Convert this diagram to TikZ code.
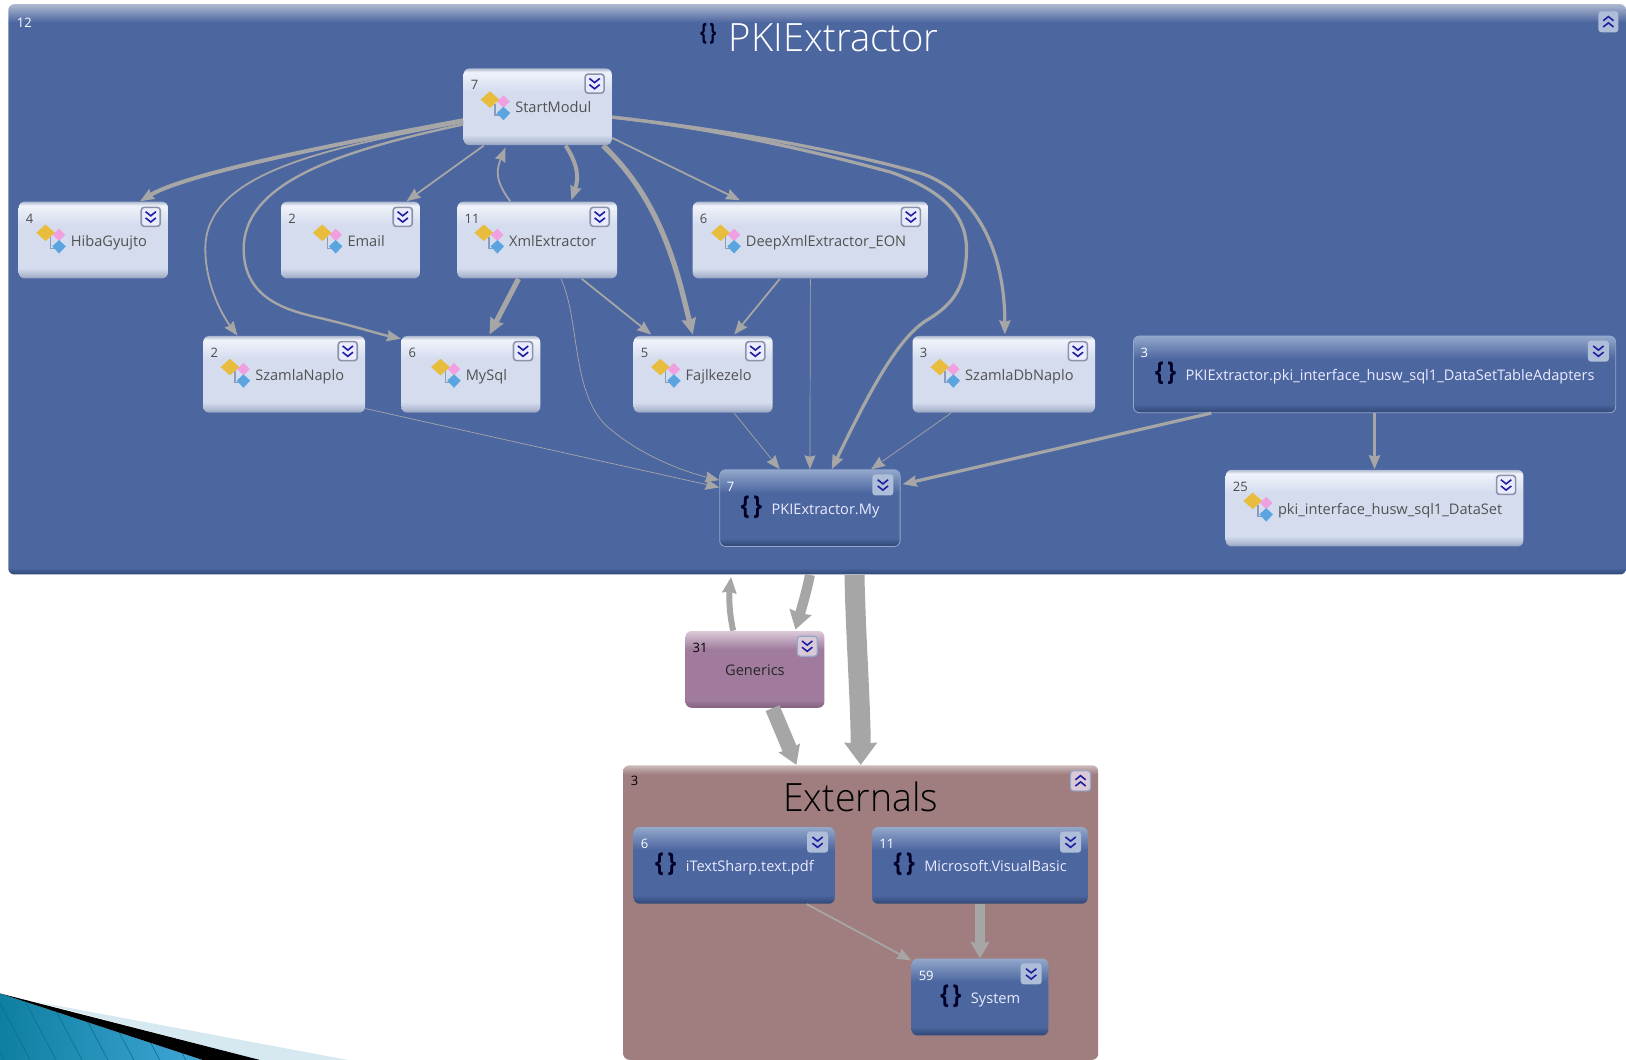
\documentclass[tikz,border=0pt]{standalone}
\usepackage{fontspec}
\setmainfont{Open Sans}
\newfontfamily\titlefont{Open Sans Light}
\usetikzlibrary{arrows.meta,calc}
\definecolor{pkiblue}{HTML}{4C66A0}
\definecolor{pkidark}{HTML}{2F4673}
\definecolor{pkitop}{HTML}{93A8CB}
\definecolor{lightmain}{HTML}{D4DCEE}
\definecolor{lighttop}{HTML}{F0F3FA}
\definecolor{lightedge}{HTML}{AEB9D0}
\definecolor{lightlow}{HTML}{8F9EC0}
\definecolor{pinkmain}{HTML}{A07B9D}
\definecolor{pinktop}{HTML}{DACAD8}
\definecolor{pinklow}{HTML}{80607F}
\definecolor{extmain}{HTML}{A07E80}
\definecolor{exttop}{HTML}{CDBBBB}
\definecolor{depgray}{HTML}{A6A6A6}
\definecolor{chevblue}{HTML}{1E1E9E}
\definecolor{iconyellow}{HTML}{E8BC3C}
\definecolor{iconpink}{HTML}{F0A0E0}
\definecolor{iconblue}{HTML}{5AA5E0}
\definecolor{iconline}{HTML}{8A9CC0}
\definecolor{cornerleft}{HTML}{0E7FA0}
\definecolor{cornerright}{HTML}{3FA6D6}
\definecolor{cornerline}{HTML}{0B6F90}
\definecolor{cornerpale}{HTML}{D6E9F1}
\pgfdeclareverticalshading{lightshade}{100bp}{color(0bp)=(lightlow); color(25bp)=(lightlow); color(27bp)=(lightedge); color(31.8bp)=(lightmain); color(60bp)=(lightmain); color(72.5bp)=(lighttop); color(75bp)=(lightedge); color(100bp)=(lightedge)}
\pgfdeclareverticalshading{blueshade}{100bp}{color(0bp)=(pkidark); color(25bp)=(pkidark); color(30.5bp)=(pkiblue); color(60bp)=(pkiblue); color(75bp)=(pkitop); color(100bp)=(pkitop)}
\pgfdeclareverticalshading{pinkshade}{100bp}{color(0bp)=(pinklow); color(25bp)=(pinklow); color(30bp)=(pinkmain); color(63bp)=(pinkmain); color(75bp)=(pinktop); color(100bp)=(pinktop)}
\pgfdeclareverticalshading{outershade}{100bp}{color(0bp)=(pkidark); color(25bp)=(pkidark); color(25.6bp)=(pkiblue); color(73.4bp)=(pkiblue); color(75bp)=(lightedge); color(100bp)=(lightedge)}
\pgfdeclareverticalshading{extshade}{100bp}{color(0bp)=(extmain); color(73.5bp)=(extmain); color(75bp)=(exttop); color(100bp)=(exttop)}
\tikzset{
  lightbox/.style={shape=rectangle,rounded corners=3pt,shading=lightshade,minimum height=74*.5185pt,inner sep=0pt},
  bluebox/.style={shape=rectangle,rounded corners=3pt,shading=blueshade,draw=pkitop,line width=.4pt,minimum height=74*.5185pt,inner sep=0pt},
  extbox/.style={shape=rectangle,rounded corners=3pt,shading=blueshade,minimum height=74*.5185pt,inner sep=0pt},
  pinkbox/.style={shape=rectangle,rounded corners=3pt,shading=pinkshade,minimum height=74*.5185pt,inner sep=0pt},
  cntbase/.style={anchor=west,inner sep=0pt,font=\fontsize{6.5}{7}\selectfont},
  lightcnt/.style={cntbase,text=black!70},
  bluecnt/.style={cntbase,text=white},
  extcnt/.style={cntbase,text=white},
  pinkcnt/.style={cntbase,text=black},
  lblbase/.style={inner sep=0pt,text height=6pt,text depth=0pt,font=\fontsize{7.3}{8}\selectfont},
  lightlbl/.style={lblbase,text=black!68,xshift=7.8pt},
  bluelbl/.style={lblbase,text=white!92!blue,xshift=7.8pt},
  extlbl/.style={lblbase,text=white!92!blue,xshift=7.8pt},
  pinklbl/.style={lblbase,text=black!85},
  lightbtn/.style={shape=rectangle,rounded corners=1.5pt,fill=white!92!blue,draw=black!20!lightedge,line width=.8pt,minimum size=9.5pt,inner sep=0pt},
  bluebtn/.style={shape=rectangle,rounded corners=1.5pt,fill=pkitop!75!white,minimum size=10.5pt,inner sep=0pt},
  extbtn/.style={bluebtn},
  pinkbtn/.style={shape=rectangle,rounded corners=1.5pt,fill=pinktop,draw=pkitop,line width=.6pt,minimum size=10pt,inner sep=0pt},
  bracefont/.style={text=black!85!blue,xscale=.85,font=\bfseries\fontsize{13}{14}\selectfont},
  chev/.style={draw=chevblue,line width=.8pt},
  dep/.style={draw=depgray,-{Stealth[inset=.7pt,length=7pt,width=5.5pt]}},
  depthin/.style={dep,line width=.35pt},
  depmid/.style={dep,line width=.9pt},
  depthick/.style={dep,line width=1.6pt},
  depfat/.style={dep,line width=2.6pt,-{Stealth[inset=.7pt,length=8pt,width=7pt]}},
}
\newcommand{\chevs}[2]{
  \draw[chev] ($(#1)+(-5,#2*-5)$) -- ($(#1)+(0,#2*-1)$) -- ($(#1)+(5,#2*-5)$);
  \draw[chev] ($(#1)+(-5,#2*1)$) -- ($(#1)+(0,#2*5)$) -- ($(#1)+(5,#2*1)$);
}
\newcommand{\lighticon}[1]{
  \draw[iconline,line width=.7pt] ($(#1-t.west)+(-19,-3)$) -- ($(#1-t.west)+(-19,8)$) -- ($(#1-t.west)+(-12,8)$);
  \fill[iconyellow] ($(#1-t.west)+(-33,-7)$) -- ($(#1-t.west)+(-24,-15)$) -- ($(#1-t.west)+(-15,-7)$) -- ($(#1-t.west)+(-24,1)$) -- cycle;
  \fill[iconpink] ($(#1-t.west)+(-17,-5)$) -- ($(#1-t.west)+(-11,-11)$) -- ($(#1-t.west)+(-5,-5)$) -- ($(#1-t.west)+(-11,1)$) -- cycle;
  \fill[iconblue] ($(#1-t.west)+(-17.5,6)$) -- ($(#1-t.west)+(-11,0)$) -- ($(#1-t.west)+(-4.5,6)$) -- ($(#1-t.west)+(-11,13)$) -- cycle;
}
\newcommand{\blueicon}[1]{
  \node[bracefont] (#1-i) at ($(#1-t.west)+(-19,-1)$) {\{\,\}};
}
\let\exticon\blueicon
\newcommand{\pinkicon}[1]{}
\newcommand{\modul}[6]{
  \node[#1box,minimum width=#4*.5185pt] (#2) at (#3) {};
  \node[#1cnt] (#2-n) at ($(#2.north west)+(7,16.5)$) {#5};
  \node[#1btn] (#2-b) at ($(#2.north east)+(-17,15)$) {};
  \chevs{#2-b}{1}
  \node[#1lbl] (#2-t) at (#2) {#6};
  \csname #1icon\endcsname{#2}
}
\begin{document}
\begin{tikzpicture}[x=.5185pt,y=-.5185pt]
    \useasboundingbox (0,0) rectangle (1568,1022);
    \clip (0,0) rectangle (1568,1022);
    \begin{scope}
        \clip (0,958) -- (195,1022) -- (0,1022) -- cycle;
        \shade[left color=cornerleft,right color=cornerright] (0,958) rectangle (195,1022);
        \foreach \x in {-30,-5,...,195} \draw[cornerline,line width=.3pt] (\x,958) -- (\x+34,1022);
    \end{scope}
    \fill[cornerpale] (35,966) -- (335,1022) -- (250,1022) -- cycle;
    \fill[black] (0,958) -- (250,1022) -- (195,1022) -- cycle;

    \node[shape=rectangle,rounded corners=3pt,shading=outershade,minimum width=1560*.5185pt,minimum height=550*.5185pt,inner sep=0pt] (PKI) at (788,279) {};
    \node[bluecnt] (PKI-n) at (16,22) {12};
    \node[text=white,xscale=.98,font=\titlefont\fontsize{19.5}{22}\selectfont] (PKI-t) at (804,36) {PKIExtractor};
    \node[text=black!85!blue,xscale=.7,font=\bfseries\fontsize{12}{13}\selectfont] (PKI-i) at (683,33) {\{\,\}};
    \node[bluebtn,minimum width=10pt] (PKI-b) at (1551,21) {};
    \chevs{PKI-b}{-1}

    \node[shape=rectangle,rounded corners=3pt,shading=extshade,minimum width=458*.5185pt,minimum height=284*.5185pt,inner sep=0pt] (Externals) at (830,880) {};
    \node[pinkcnt] (Externals-n) at (608,753) {3};
    \node[text=black,xscale=.96,font=\titlefont\fontsize{19.5}{22}\selectfont] (Externals-t) at (830,768) {Externals};
    \node[pinkbtn] (Externals-b) at (1042,753) {};
    \chevs{Externals-b}{-1}

    \modul{light}{StartModul}{518.5,103}{143}{7}{StartModul}
    \modul{light}{HibaGyujto}{90,231.5}{144}{4}{HibaGyujto}
    \modul{light}{Email}{338,231.5}{134}{2}{Email}
    \modul{light}{XmlExtractor}{518,231.5}{154}{11}{XmlExtractor}
    \modul{light}{DeepXml}{781.5,231.5}{227}{6}{DeepXmlExtractor\_EON}
    \modul{light}{SzamlaNaplo}{274,361}{156}{2}{SzamlaNaplo}
    \modul{light}{MySql}{454,361}{134}{6}{MySql}
    \modul{light}{Fajlkezelo}{678,361}{134}{5}{Fajlkezelo}
    \modul{light}{SzamlaDbNaplo}{968,361}{176}{3}{SzamlaDbNaplo}
    \modul{blue}{Adapters}{1325.5,361}{465}{3}{PKIExtractor.pki\_interface\_husw\_sql1\_DataSetTableAdapters}
    \modul{blue}{My}{781,490}{174}{7}{PKIExtractor.My}
    \modul{light}{DataSet}{1325.5,490}{287}{25}{pki\_interface\_husw\_sql1\_DataSet}
    \modul{pink}{Generics}{728,645.5}{134}{31}{Generics}
    \modul{ext}{iTextSharp}{708,834.5}{194}{6}{iTextSharp.text.pdf}
    \modul{ext}{VisualBasic}{945,834.5}{208}{11}{Microsoft.VisualBasic}
    \modul{ext}{System}{945,961.5}{132}{59}{System}

    \draw[depthick,line width=2pt] ($(StartModul.west)+(0,13)$) .. controls (290,145) and (175,170) .. ($(HibaGyujto.north)+(45,0)$);
    \draw[depmid] ($(StartModul.west)+(0,15)$) .. controls (300,145) and (198,170) .. (198,240) .. controls (198,275) and (215,305) .. ($(SzamlaNaplo.north)+(-45,0)$);
    \draw[depmid,line width=1.2pt] ($(StartModul.west)+(0,17)$) .. controls (330,145) and (235,175) .. (235,240) .. controls (235,290) and (280,300) .. (310,307) .. controls (340,314) and (365,322) .. ($(MySql.north west)+(0,3)$);
    \draw[depmid] ($(StartModul.south)+(-52,0)$) -- ($(Email.north)+(54,0)$);
    \draw[depmid] ($(XmlExtractor.north)+(-26,0)$) .. controls (478,175) and (478,165) .. ($(StartModul.south)+(-31,2)$);
    \draw[depthick,line width=2pt] ($(StartModul.south)+(27,0)$) .. controls (558,160) and (558,172) .. ($(XmlExtractor.north)+(33,-1)$);
    \draw[depfat] ($(StartModul.south)+(63,0)$) .. controls (640,195) and (655,270) .. ($(Fajlkezelo.north)+(-10,-1)$);
    \draw[depmid] ($(StartModul.east)+(0,30)$) -- ($(DeepXml.north)+(-68,-1)$);
    \draw[depthick] ($(StartModul.east)+(0,10)$) .. controls (700,125) and (810,145) .. (888,167) .. controls (940,185) and (969,240) .. ($(SzamlaDbNaplo.north)+(1,-1)$);
    \draw[depthick] ($(StartModul.east)+(0,10)$) .. controls (700,125) and (800,150) .. (859,166) .. controls (905,182) and (932,205) .. (932,240) .. controls (932,275) and (920,293) .. (895,308) .. controls (865,325) and (835,385) .. ($(My.north)+(21,0)$);
    \draw[depfat] ($(XmlExtractor.south)+(-18,0)$) -- ($(MySql.north)+(18,-1)$);
    \draw[depmid] ($(XmlExtractor.south)+(43,0)$) -- ($(Fajlkezelo.north)+(-50,-1)$);
    \draw[depthin] ($(XmlExtractor.south)+(23,0)$) .. controls (560,310) and (550,385) .. (590,415) .. controls (620,440) and (660,455) .. ($(My.west)+(0,-27)$);
    \draw[depmid] ($(DeepXml.south)+(-29.5,0)$) -- ($(Fajlkezelo.north)+(30,-1)$);
    \draw[depthin] (DeepXml.south) -- (My.north);
    \draw[depthin] ($(SzamlaNaplo.east)+(0,33)$) -- ($(My.west)+(0,-20)$);
    \draw[depthin] ($(Fajlkezelo.south)+(30,0)$) -- ($(My.north)+(-29,0)$);
    \draw[depthin] ($(SzamlaDbNaplo.south)+(-51,0)$) -- ($(My.north)+(59,0)$);
    \draw[depthick] ($(Adapters.south)+(-157.5,0)$) -- ($(My.east)+(2,-23)$);
    \draw[depthick] (Adapters.south) -- (DataSet.north);
    \draw[depfat,line width=3pt] ($(Generics.north)+(-21,0)$) .. controls (703,590) and (703,575) .. ($(PKI.south)+(-83,2)$);
    \draw[dep,line width=5pt,-{Stealth[inset=.5pt,length=9pt,width=11pt]}] ($(PKI.south)+(-7,0)$) .. controls (778,570) and (772,590) .. ($(Generics.north)+(39,-1)$);
    \draw[dep,line width=10pt,-{Stealth[inset=.5pt,length=11pt,width=16pt]}] ($(PKI.south)+(36,0)$) .. controls (825,610) and (830,680) .. (Externals.north);
    \draw[dep,line width=7.5pt,-{Stealth[inset=.5pt,length=9pt,width=11pt]}] ($(Generics.south)+(17,0)$) -- ($(Externals.north)+(-62,0)$);
    \draw[depmid] ($(iTextSharp.south)+(70,0)$) -- ($(System.north west)+(0,2)$);
    \draw[dep,line width=5pt,-{Stealth[inset=.5pt,length=8pt,width=9pt]}] (VisualBasic.south) -- (System.north);
\end{tikzpicture}
\end{document}
